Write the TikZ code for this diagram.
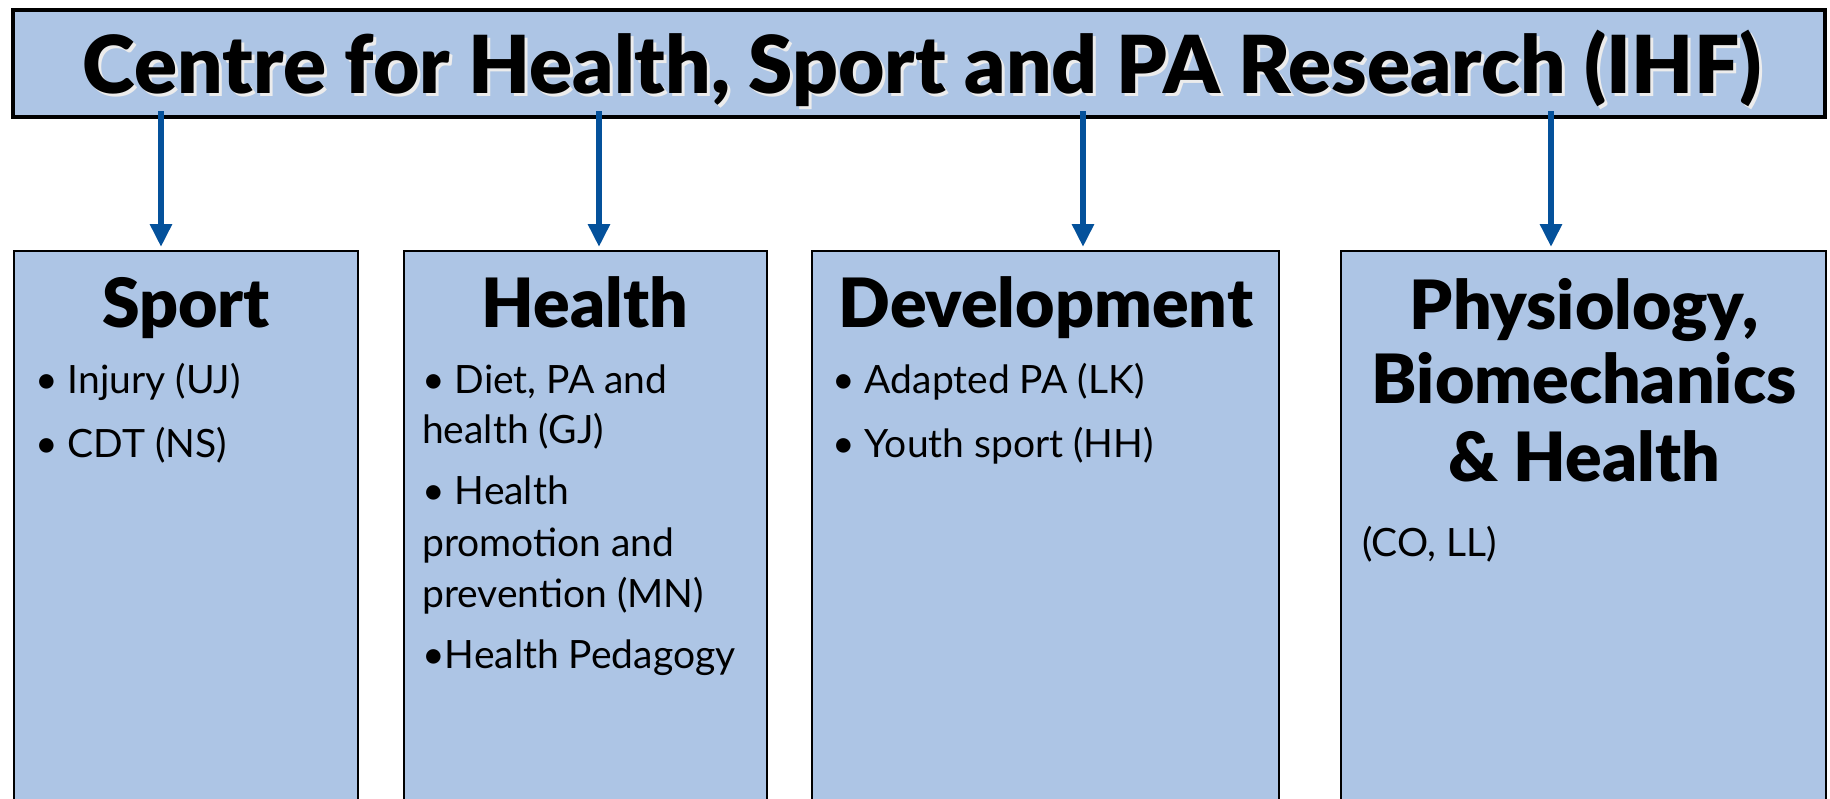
\documentclass[tikz,border=0pt]{standalone}
\usepackage{fontspec}
\setmainfont{Lato}
\newfontfamily\heavyfont{Lato Black}
\usetikzlibrary{arrows.meta}
\definecolor{boxfill}{RGB}{173,197,229}
\definecolor{arrowblue}{RGB}{4,81,155}
\begin{document}
\begin{tikzpicture}[x=1pt,y=-1pt,
  topbox/.style={draw=black, line width=4.5pt, fill=boxfill, anchor=north west, inner sep=0pt, outer sep=0pt},
  areabox/.style={draw=black, line width=2.5pt, fill=boxfill, anchor=north west, inner sep=0pt, outer sep=0pt, minimum height=600pt},
  conn/.style={draw=arrowblue, line width=6.5pt, -{Triangle[width=21pt,length=23pt]}, shorten >=4pt},
  titletext/.style={inner sep=0pt, anchor=base, font=\fontsize{80}{80}\selectfont\heavyfont},
  headtext/.style={inner sep=0pt, anchor=base, font=\fontsize{68}{76}\selectfont\heavyfont},
  bodytext/.style={inner sep=0pt, anchor=base west, font=\fontsize{39}{51}\selectfont},
]
\useasboundingbox (0,0) rectangle (1830,798);
\fill[white] (0,0) rectangle (1830,798);

% main box
\node[topbox, minimum width=1812pt, minimum height=107pt] (top) at (13,10) {};
\node[titletext, text=white!85!gray] (titleshadow) at (925,96) {Centre for Health, Sport and PA Research (IHF)};
\node[titletext] (title) at (922,93) {Centre for Health, Sport and PA Research (IHF)};

% area boxes
\node[areabox, minimum width=344pt] (sport) at (14,251) {};
\node[areabox, minimum width=363pt] (health) at (404,251) {};
\node[areabox, minimum width=467pt] (dev) at (812,251) {};
\node[areabox, minimum width=485pt] (phys) at (1341,251) {};

% arrows
\coordinate (s1) at (161,111);
\coordinate (s2) at (599,111);
\coordinate (s3) at (1083,111);
\coordinate (s4) at (1551,111);
\draw[conn] (s1) -- (s1 |- sport.north);
\draw[conn] (s2) -- (s2 |- health.north);
\draw[conn] (s3) -- (s3 |- dev.north);
\draw[conn] (s4) -- (s4 |- phys.north);

% headings
\node[headtext] (hsport) at (186,327) {Sport};
\node[headtext] (hhealth) at (585,327) {Health};
\node[headtext] (hdev) at (1046,327) {Development};
\node[headtext] (hphys1) at (1584,329) {Physiology,};
\node[headtext] (hphys2) at (1584,403) {Biomechanics};
\node[headtext] (hphys3) at (1584,481) {\& Health};

% body text
\node[bodytext] (sp1) at (35,393) {• Injury (UJ)};
\node[bodytext] (sp2) at (35,457) {• CDT (NS)};

\node[bodytext] (he1) at (422,393) {• Diet, PA and};
\node[bodytext] (he2) at (422,443) {health (GJ)};
\node[bodytext] (he3) at (422,504) {• Health};
\node[bodytext] (he4) at (422,556) {promotion and};
\node[bodytext] (he5) at (422,607) {prevention (MN)};
\node[bodytext] (he6) at (422,668) {•Health Pedagogy};

\node[bodytext] (de1) at (832,393) {• Adapted PA (LK)};
\node[bodytext] (de2) at (832,457) {• Youth sport (HH)};

\node[bodytext] (ph1) at (1362,556) {(CO, LL)};
\end{tikzpicture}
\end{document}
